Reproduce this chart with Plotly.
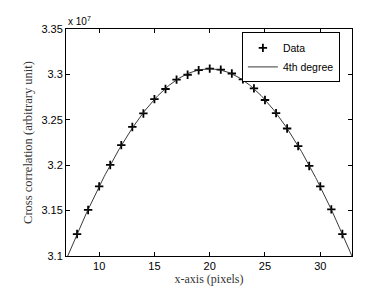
import numpy as np
import plotly.graph_objects as go

# Data (y in units of 1e7)
x_data = [8, 9, 10, 11, 12, 13, 14, 15, 16, 17, 18, 19, 20,
          21, 22, 23, 24, 25, 26, 27, 28, 29, 30, 31, 32]
y_data = [3.1242, 3.1507, 3.1767, 3.2003, 3.2221, 3.2421, 3.2570, 3.2728,
          3.2839, 3.2943, 3.2996, 3.3046, 3.3064, 3.3053, 3.3010, 3.2946,
          3.2846, 3.2718, 3.2573, 3.2404, 3.2211, 3.1992, 3.1767, 3.1514,
          3.1242]
x_ticks = [10, 15, 20, 25, 30]
y_ticks = [3.1, 3.15, 3.2, 3.25, 3.3, 3.35]
y_ticklabels = ["3.1", "3.15", "3.2", "3.25", "3.3", "3.35"]
x_range = [7, 32.87]
y_range = [3.1, 3.35]

# 4th-degree polynomial fit of the data
coef = np.polyfit(x_data, y_data, 4)
x_fit = np.linspace(x_range[0], x_range[1], 300)
y_fit = np.polyval(coef, x_fit)

fig = go.Figure()
fig.add_trace(go.Scatter(
    x=x_data, y=y_data, mode="markers", name="Data",
    marker=dict(symbol="cross-thin", size=6, color="black",
                line=dict(color="black", width=1.8)),
))
fig.add_trace(go.Scatter(
    x=x_fit, y=y_fit, mode="lines", name="4th degree",
    line=dict(color="#222222", width=0.9),
))

axis_common = dict(
    showline=True, linecolor="black", linewidth=1, mirror="ticks",
    ticks="inside", ticklen=4, tickcolor="black", showgrid=False,
    zeroline=False, tickfont=dict(family="Liberation Sans, Arial", size=11, color="black"),
)

fig.update_layout(
    width=382, height=287,
    margin=dict(l=58, r=38, t=21, b=33),
    paper_bgcolor="white", plot_bgcolor="white",
    xaxis=dict(range=x_range, tickvals=x_ticks,
               title=dict(text="x-axis (pixels)", standoff=2,
                          font=dict(family="Liberation Serif, DejaVu Serif", size=12, color="#333")),
               **axis_common),
    yaxis=dict(range=y_range, tickvals=y_ticks, ticktext=y_ticklabels,
               title=dict(text="Cross correlation (arbitrary unit)", standoff=6,
                          font=dict(family="Liberation Serif, DejaVu Serif", size=12.5, color="#333")),
               **axis_common),
    showlegend=True,
    legend=dict(x=0.615, y=0.985, xanchor="left", yanchor="top",
                bgcolor="white", bordercolor="black", borderwidth=1,
                font=dict(family="Liberation Sans, Arial", size=10.5, color="black"),
                tracegroupgap=0, itemwidth=30),
    annotations=[dict(text="x 10<sup>7</sup>", xref="paper", yref="paper",
                      x=0.0, y=1.0, xanchor="left", yanchor="bottom",
                      showarrow=False,
                      font=dict(family="Liberation Sans, Arial", size=10, color="black"))],
)

fig.write_html("out.html")
